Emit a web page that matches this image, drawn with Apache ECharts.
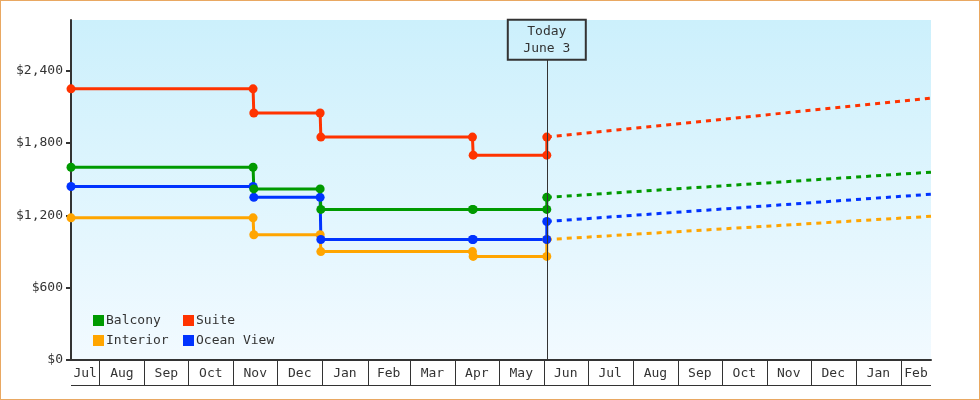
<!DOCTYPE html>
<html>
<head>
<meta charset="utf-8">
<script src="https://cdn.jsdelivr.net/npm/echarts@6.0.0/dist/echarts.min.js"></script>
<style>
	body { margin: 0; background: #fff; }
	#main { width: 980px; height: 400px; box-sizing: border-box; border: 1px solid #e9a862; background: #fff; }
</style>
</head>
<body>
<div id="main"></div>
<script>
// price history: each step is two points (old price, new price)
var stepDates = ['2011-07-12 14:00', '2011-11-14 12:00', '2011-11-15', '2011-12-30 12:00', '2011-12-31', '2012-04-13', '2012-04-13 12:00', '2012-06-03', '2012-06-03'];
var interior = [1179, 1179, 1039, 1039, 899, 899, 859, 859, 999];
var oceanView = [1439, 1439, 1349, 1349, 999, 999, 999, 999, 1149];
var balcony = [1599, 1599, 1419, 1419, 1249, 1249, 1249, 1249, 1349];
var suite = [2249, 2249, 2049, 2049, 1849, 1849, 1699, 1699, 1849];

// forecast (dashed)
var forecastDates = ['2012-06-03', '2013-02-21 14:00'];
var interiorForecast = [999, 1192];
var oceanViewForecast = [1149, 1375];
var balconyForecast = [1349, 1558];
var suiteForecast = [1849, 2172];

var monthNames = ['Jul', 'Aug', 'Sep', 'Oct', 'Nov', 'Dec', 'Jan', 'Feb', 'Mar', 'Apr', 'May', 'Jun', 'Jul', 'Aug', 'Sep', 'Oct', 'Nov', 'Dec', 'Jan', 'Feb'];
var monthStarts = ['2011-07-01', '2011-08-01', '2011-09-01', '2011-10-01', '2011-11-01', '2011-12-01', '2012-01-01', '2012-02-01', '2012-03-01', '2012-04-01', '2012-05-01', '2012-06-01', '2012-07-01', '2012-08-01', '2012-09-01', '2012-10-01', '2012-11-01', '2012-12-01', '2013-01-01', '2013-02-01', '2013-03-01'];

var yTicks = [0, 600, 1200, 1800, 2400];
var today = '2012-06-03';
var todayLabel = 'Today\nJune 3';

(function(){
	var parse = echarts.time.parse,
		font = 'DejaVu Sans Mono',
		ink = '#333',
		rowH = 25,
		xMin = parse(stepDates[0]),
		xMax = parse(forecastDates[1]);

	var pair = function(dates, vals){
		var out = [];
		for (var i = 0; i < vals.length; i++) {
			out.push([parse(dates[i]), vals[i]]);
		}
		return out;
	};

	var monthData = [];
	for (var i = 0; i < monthNames.length; i++) {
		monthData.push([parse(monthStarts[i]), parse(monthStarts[i + 1]), 0]);
	}

	var solid = function(name, color, vals){
		return {
			name: name,
			type: 'line',
			z: 3,
			color: color,
			data: pair(stepDates, vals),
			symbol: 'circle',
			symbolSize: 9,
			showAllSymbol: true,
			lineStyle: { width: 3, color: color },
			itemStyle: { color: color }
		};
	};
	var dashed = function(name, color, vals){
		return {
			name: name,
			type: 'line',
			z: 2,
			color: color,
			data: pair(forecastDates, vals),
			symbol: 'none',
			lineStyle: { width: 3, color: color, type: [5, 5] }
		};
	};

	var legendText = { color: ink, fontFamily: font, fontSize: 13, padding: [0, 0, 0, -3] };

	var option = {
		animation: false,
		grid: {
			left: 70, right: 48, top: 19, bottom: 39,
			show: true,
			borderWidth: 0,
			backgroundColor: new echarts.graphic.LinearGradient(0, 0, 0, 1, [
				{ offset: 0, color: '#ccf0fc' },
				{ offset: 1, color: '#f2faff' }
			])
		},
		legend: [{
			data: ['Balcony', 'Interior'],
			orient: 'vertical',
			left: 92, top: 313, padding: 0,
			icon: 'rect', itemWidth: 11, itemHeight: 11, itemGap: 7,
			textStyle: legendText
		}, {
			data: ['Suite', 'Ocean View'],
			orient: 'vertical',
			left: 182, top: 313, padding: 0,
			icon: 'rect', itemWidth: 11, itemHeight: 11, itemGap: 7,
			textStyle: legendText
		}],
		xAxis: {
			type: 'time',
			min: xMin,
			max: xMax,
			axisLine: { show: true, lineStyle: { color: ink, width: 2 } },
			axisTick: { show: false },
			axisLabel: { show: false },
			splitLine: { show: false }
		},
		yAxis: {
			type: 'value',
			min: 0,
			max: 2820,
			interval: 600,
			axisLine: { show: true, lineStyle: { color: ink, width: 2 } },
			axisTick: { show: true, length: 5, lineStyle: { color: ink, width: 2 }, customValues: yTicks },
			axisLabel: {
				color: ink, fontFamily: font, fontSize: 13, margin: 8,
				customValues: yTicks,
				formatter: function(v){
					return '$' + String(v).replace(/\B(?=(\d{3})+(?!\d))/g, ',');
				}
			},
			splitLine: { show: false }
		},
		series: [{
			//月份表格
			type: 'custom',
			clip: false,
			silent: true,
			z: 1,
			data: monthData,
			encode: { x: [0, 1], y: 2 },
			renderItem: function(params, api){
				var cs = params.coordSys,
					left = cs.x, right = cs.x + cs.width,
					base = cs.y + cs.height,
					x0 = api.coord([api.value(0), 0])[0],
					x1 = api.coord([api.value(1), 0])[0],
					a = Math.max(x0, left),
					b = Math.min(x1, right),
					children = [];
				if (params.dataIndex === 0) {
					children.push({
						type: 'line',
						shape: { x1: left, y1: base + rowH + 0.5, x2: right, y2: base + rowH + 0.5 },
						style: { stroke: ink, lineWidth: 1 }
					});
				}
				if (b > a) {
					children.push({
						type: 'text',
						style: {
							text: monthNames[params.dataIndex],
							x: (a + b) / 2, y: base + rowH / 2 + 1,
							align: 'center', verticalAlign: 'middle',
							fill: ink, font: '13px "' + font + '"'
						}
					});
					if (x0 > left) {
						var xs = Math.round(x0) + 0.5;
						children.push({
							type: 'line',
							shape: { x1: xs, y1: base, x2: xs, y2: base + rowH },
							style: { stroke: ink, lineWidth: 1 }
						});
					}
				}
				return { type: 'group', children: children };
			}
		}, {
			//今天
			type: 'line',
			name: 'today',
			z: 1,
			data: [],
			markLine: {
				silent: true,
				symbol: 'none',
				lineStyle: { color: ink, width: 1, type: 'solid' },
				label: {
					show: true,
					position: 'end',
					distance: 0,
					formatter: todayLabel,
					color: ink,
					fontFamily: font,
					fontSize: 13,
					lineHeight: 17,
					width: 78,
					align: 'center',
					padding: [3, 0],
					borderColor: ink,
					borderWidth: 1,
					backgroundColor: 'transparent'
				},
				data: [[
					{ coord: [parse(today), 0] },
					{ coord: [parse(today), 2490] }
				]]
			}
		},
			dashed('Interior', '#ffa500', interiorForecast),
			dashed('Ocean View', '#0033ff', oceanViewForecast),
			dashed('Balcony', '#009a00', balconyForecast),
			dashed('Suite', '#ff3300', suiteForecast),
			solid('Interior', '#ffa500', interior),
			solid('Ocean View', '#0033ff', oceanView),
			solid('Balcony', '#009a00', balcony),
			solid('Suite', '#ff3300', suite)
		]
	};

	var myChart = echarts.init(document.getElementById('main'));
	myChart.setOption(option);
})();
</script>
</body>
</html>
